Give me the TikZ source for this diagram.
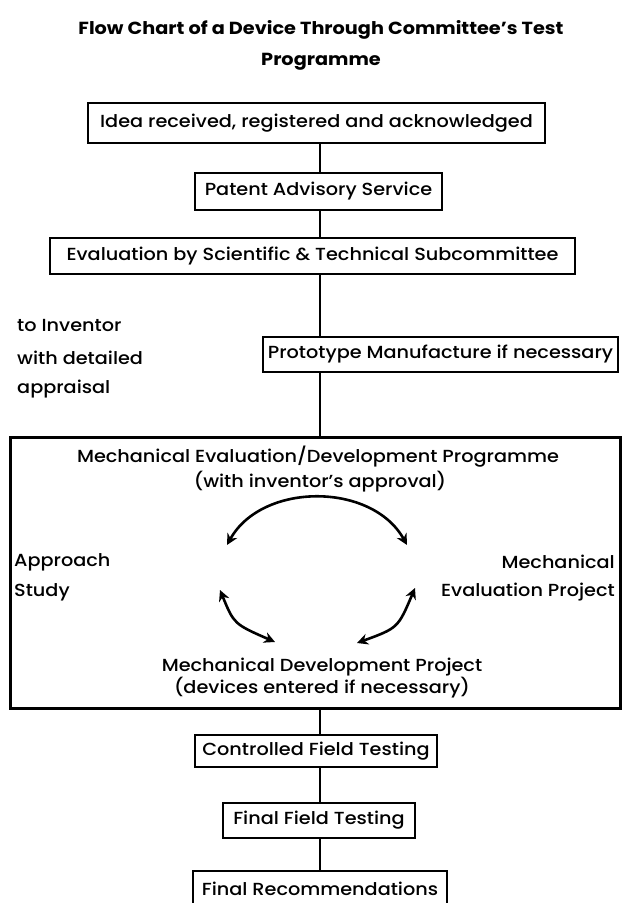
\documentclass[tikz,border=0pt]{standalone}
\usepackage{fontspec}
\setmainfont{Poppins}[UprightFont=* Medium, BoldFont=* Bold, FakeStretch=1.1]
\usetikzlibrary{arrows.meta}
\begin{document}
\begin{tikzpicture}[x=1pt,y=-1pt,
  box/.style={draw, line width=2.2pt, inner sep=0pt, font=\fontsize{17.5}{20}\selectfont},
  bigbox/.style={draw, line width=3pt, inner sep=0pt},
  lbl/.style={inner sep=0pt, font=\fontsize{17.5}{20}\selectfont},
  ttl/.style={inner sep=0pt, font=\fontsize{17.5}{19}\selectfont\bfseries},
  conn/.style={line width=1.8pt},
  cyc/.style={line width=2.6pt, {Stealth[length=11pt,width=11pt]}-{Stealth[length=11pt,width=11pt]}}
]
\useasboundingbox (0,0) rectangle (623,903);

\node[ttl] (t1) at (321,30) {Flow Chart of a Device Through Committee's Test};
\node[ttl] (t2) at (321,62) {Programme};

\node[box, minimum width=457, minimum height=40] (b1) at (316.5,123) {Idea received, registered and acknowledged};
\node[box, minimum width=247, minimum height=37] (b2) at (318.5,191.5) {Patent Advisory Service};
\node[box, minimum width=525, minimum height=36] (b3) at (312.5,256) {Evaluation by Scientific \& Technical Subcommittee};

\node[lbl, anchor=west] (i1) at (17,325) {to Inventor};
\node[lbl, anchor=west] (i2) at (17,358) {with detailed};
\node[lbl, anchor=west] (i3) at (17,389) {appraisal};

\node[box, minimum width=355, minimum height=35] (b4) at (440.5,354.5) {Prototype Manufacture if necessary};

\node[bigbox, minimum width=610, minimum height=271] (prog) at (315,572.5) {};
\node[lbl] (m1) at (318,457) {Mechanical Evaluation/Development Programme};
\node[lbl] (m2) at (320,482) {(with inventor's approval)};
\node[lbl, anchor=west] (ap1) at (14,562) {Approach};
\node[lbl, anchor=west] (ap2) at (14,592) {Study};
\node[lbl, anchor=east] (me1) at (615,562) {Mechanical};
\node[lbl, anchor=east] (me2) at (615,592) {Evaluation Project};
\node[lbl] (d1) at (322,667) {Mechanical Development Project};
\node[lbl] (d2) at (322,688) {(devices entered if necessary)};

\node[box, minimum width=242, minimum height=32] (c1) at (316,751) {Controlled Field Testing};
\node[box, minimum width=192, minimum height=35] (c2) at (319,820.5) {Final Field Testing};
\node[box, minimum width=254, minimum height=36, text depth=0pt] (c3) at (320,889) {Final Recommendations};

\coordinate (sp) at (320,0);
\draw[conn] (b1.south -| sp) -- (b2.north -| sp);
\draw[conn] (b2.south -| sp) -- (b3.north -| sp);
\draw[conn] (b3.south -| sp) -- (b4.north -| sp);
\draw[conn] (b4.south -| sp) -- (prog.north -| sp);
\draw[conn] (prog.south -| sp) -- (c1.north -| sp);
\draw[conn] (c1.south -| sp) -- (c2.north -| sp);
\draw[conn] (c2.south -| sp) -- (c3.north -| sp);

\coordinate (aL) at (227,545);
\coordinate (aR) at (407,545);
\coordinate (lA) at (220,590);
\coordinate (lB) at (275,642);
\coordinate (rA) at (415,588);
\coordinate (rB) at (357,643);
\draw[cyc] (aL) .. controls (262,482) and (372,482) .. (aR);
\draw[cyc] (lA) .. controls (234,624) .. (lB);
\draw[cyc] (rA) .. controls (398,628) .. (rB);
\end{tikzpicture}
\end{document}
